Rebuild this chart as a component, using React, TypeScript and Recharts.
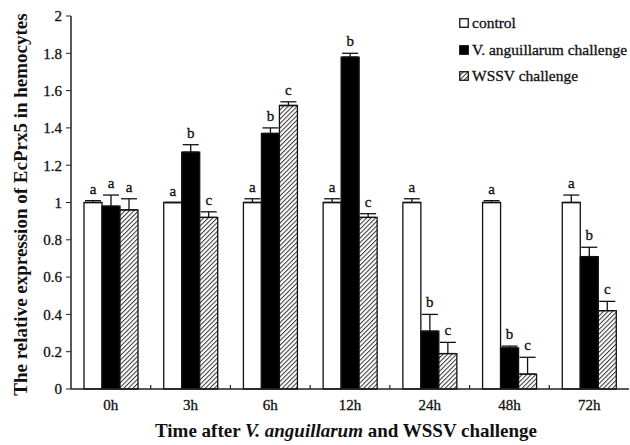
import { BarChart, Bar, XAxis, YAxis, ErrorBar, LabelList } from 'recharts'

// time points after challenge
const categories = ['0h', '3h', '6h', '12h', '24h', '48h', '72h']

// relative expression (mean) and upper error
const control = [1, 1, 1, 1, 1, 1, 1]
const controlErr = [0.01, 0, 0.02, 0.02, 0.02, 0.01, 0.04]
const vibrio = [0.98, 1.27, 1.37, 1.78, 0.31, 0.22, 0.71]
const vibrioErr = [0.06, 0.04, 0.03, 0.02, 0.09, 0.01, 0.05]
const wssv = [0.96, 0.92, 1.52, 0.92, 0.19, 0.08, 0.42]
const wssvErr = [0.06, 0.03, 0.02, 0.02, 0.06, 0.09, 0.05]

// significance letters
const controlLetters = ['a', 'a', 'a', 'a', 'a', 'a', 'a']
const vibrioLetters = ['a', 'b', 'b', 'b', 'b', 'b', 'b']
const wssvLetters = ['a', 'c', 'c', 'c', 'c', 'c', 'c']

const yTicks = [0, 0.2, 0.4, 0.6, 0.8, 1, 1.2, 1.4, 1.6, 1.8, 2]

const data = categories.map((t, i) => ({
    time: t,
    control: control[i],
    controlErr: [0, controlErr[i]],
    controlErrV: controlErr[i],
    controlLetter: controlLetters[i],
    vibrio: vibrio[i],
    vibrioErr: [0, vibrioErr[i]],
    vibrioErrV: vibrioErr[i],
    vibrioLetter: vibrioLetters[i],
    wssv: wssv[i],
    wssvErr: [0, wssvErr[i]],
    wssvErrV: wssvErr[i],
    wssvLetter: wssvLetters[i],
}))

const FONT = '"Liberation Serif", "DejaVu Serif", serif'

const letterLabel = (errKey: string) => (props: any) => {
    const { x, y, width, height, index, value } = props
    const d = data[index] as any
    const v = d[errKey.replace('ErrV', '')] as number
    const perUnit = v ? height / v : 0
    const top = y - d[errKey] * perUnit
    return (
        <text x={x + width / 2} y={top - 7} textAnchor="middle" fontFamily={FONT} fontSize={15}
            fill="#111" stroke="#111" strokeWidth={0.3}>
            {value}
        </text>
    )
}

const XTick = ({ x, y, payload, index }: any) => (
    <g>
        <text x={x} y={y + 21} textAnchor="middle" fontFamily={FONT} fontSize={15} fill="#111"
            stroke="#111" strokeWidth={0.3}>{payload.value}</text>
        {index < categories.length - 1 && (
            <line x1={x + payload.offset} x2={x + payload.offset} y1={y} y2={y - 4} stroke="#222" strokeWidth={1.2} />
        )}
    </g>
)

const XTitle = ({ viewBox }: any) => (
    <text x={viewBox.x + viewBox.width / 2 - 4} y={viewBox.y + 48} textAnchor="middle" fontFamily={FONT}
        fontSize={19} fontWeight="bold" fill="#111">
        Time after <tspan fontStyle="italic">V. anguillarum</tspan> and WSSV challenge
    </text>
)

const YTitle = ({ viewBox }: any) => {
    const cx = 20
    const cy = viewBox.y + viewBox.height / 2 + 2
    return (
        <text x={cx} y={cy} transform={`rotate(-90 ${cx} ${cy})`} textAnchor="middle" dominantBaseline="central"
            fontFamily={FONT} fontSize={19} fontWeight="bold" fill="#111">
            The relative expression of EcPrx5 in hemocytes
        </text>
    )
}

const legendItems = [
    { label: 'control', fill: '#fff' },
    { label: 'V. anguillarum challenge', fill: '#000' },
    { label: 'WSSV challenge', fill: 'url(#hatch)' },
]

export default function App() {
    return (
        <div style={{ position: 'absolute', left: 0, top: 0, width: 630, height: 445, background: '#fff' }}>
            <svg width={0} height={0} style={{ position: 'absolute' }}>
                <defs>
                    <pattern id="hatch" patternUnits="userSpaceOnUse" width={3.2} height={3.2} patternTransform="rotate(45)">
                        <rect width={3.2} height={3.2} fill="#fff" />
                        <line x1={0} y1={0} x2={0} y2={3.2} stroke="#333" strokeWidth={2} />
                    </pattern>
                </defs>
            </svg>
            <BarChart width={630} height={445} data={data} margin={{ top: 16, right: 1, left: 0, bottom: 0 }}
                barSize={18} barGap={0}>
                <XAxis dataKey="time" height={56} tickLine={false} tickSize={0} tickMargin={0}
                    axisLine={{ stroke: '#222', strokeWidth: 1.5 }} tick={<XTick />} interval={0}
                    label={<XTitle />} />
                <YAxis width={71} domain={[0, 2]} ticks={yTicks} interval={0} tickSize={5} tickMargin={4}
                    axisLine={{ stroke: '#222', strokeWidth: 1.5 }} tickLine={{ stroke: '#222' }}
                    tick={{ fontFamily: FONT, fontSize: 15, fill: '#111', stroke: '#111', strokeWidth: 0.3 }}
                    label={<YTitle />} />
                <Bar dataKey="control" fill="#fff" stroke="#111" strokeWidth={1.3} isAnimationActive={false}>
                    <ErrorBar dataKey="controlErr" width={8} stroke="#111" strokeWidth={1.3} />
                    <LabelList dataKey="controlLetter" content={letterLabel('controlErrV')} />
                </Bar>
                <Bar dataKey="vibrio" fill="#000" stroke="#111" strokeWidth={1.3} isAnimationActive={false}>
                    <ErrorBar dataKey="vibrioErr" width={8} stroke="#111" strokeWidth={1.3} />
                    <LabelList dataKey="vibrioLetter" content={letterLabel('vibrioErrV')} />
                </Bar>
                <Bar dataKey="wssv" fill="url(#hatch)" stroke="#111" strokeWidth={1.3} isAnimationActive={false}>
                    <ErrorBar dataKey="wssvErr" width={8} stroke="#111" strokeWidth={1.3} />
                    <LabelList dataKey="wssvLetter" content={letterLabel('wssvErrV')} />
                </Bar>
            </BarChart>
            <div style={{ position: 'absolute', left: 459, top: 10, fontFamily: FONT, fontSize: 15.5, color: '#111',
                WebkitTextStroke: '0.3px #111', whiteSpace: 'nowrap' }}>
                {legendItems.map((it) => (
                    <div key={it.label} style={{ display: 'flex', alignItems: 'center', height: 26.5 }}>
                        <svg width={10} height={10} style={{ marginRight: 3 }}>
                            <rect x={0.75} y={0.75} width={8.5} height={8.5} fill={it.fill} stroke="#111" strokeWidth={1.3} />
                        </svg>
                        <span>{it.label}</span>
                    </div>
                ))}
            </div>
        </div>
    )
}
